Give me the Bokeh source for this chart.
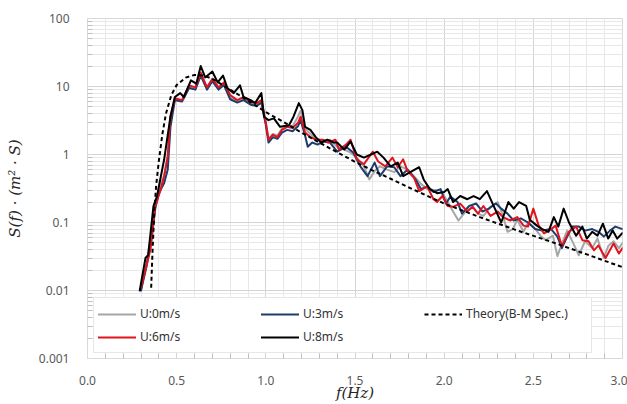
from bokeh.plotting import figure
from bokeh.models import (Range1d, FixedTicker, Legend, LegendItem,
                          CustomJSTickFormatter, NumeralTickFormatter)
from bokeh.embed import file_html
from bokeh.resources import INLINE

# ---- data ----
f_u0 = [0.30, 0.33, 0.36, 0.38, 0.40, 0.43, 0.45, 0.465, 0.49, 0.53, 0.57, 0.605, 0.635, 0.67, 0.70,
        0.735, 0.765, 0.80, 0.84, 0.875, 0.915, 0.95, 0.975, 1.0, 1.015, 1.04, 1.065, 1.09, 1.12, 1.15,
        1.18, 1.195, 1.22, 1.25, 1.28, 1.32, 1.36, 1.40, 1.44, 1.475, 1.51, 1.55, 1.58, 1.61, 1.64,
        1.68, 1.72, 1.755, 1.795, 1.83, 1.87, 1.905, 1.94, 1.98, 2.02, 2.05, 2.08, 2.12, 2.16, 2.19,
        2.22, 2.26, 2.30, 2.33, 2.355, 2.385, 2.41, 2.445, 2.47, 2.50, 2.54, 2.57, 2.61, 2.635, 2.66,
        2.69, 2.725, 2.755, 2.79, 2.83, 2.86, 2.895, 2.92, 2.95, 2.98, 3.0]
s_u0 = [0.01, 0.025, 0.07, 0.18, 0.3, 0.5, 1.0, 3.2, 6.5, 6.3, 10, 9.5, 15, 9.5, 12.5,
        9.5, 11, 7, 6, 6.6, 5.6, 5.4, 6, 3.0, 1.7, 2.0, 1.9, 2.4, 2.6, 2.6,
        3.6, 4.4, 2.4, 2.0, 1.7, 1.6, 1.65, 1.3, 1.18, 1.07, 0.9, 0.67, 0.43, 0.57, 0.67,
        0.6, 0.55, 0.67, 0.6, 0.48, 0.37, 0.31, 0.3, 0.3, 0.2, 0.145, 0.107, 0.145, 0.17, 0.135,
        0.125, 0.17, 0.2, 0.125, 0.073, 0.08, 0.11, 0.073, 0.1, 0.087, 0.064, 0.055, 0.064, 0.032, 0.049,
        0.076, 0.049, 0.033, 0.053, 0.042, 0.058, 0.03, 0.045, 0.053, 0.042, 0.05]

f_u3 = [0.30, 0.33, 0.36, 0.38, 0.40, 0.43, 0.45, 0.465, 0.49, 0.53, 0.57, 0.605, 0.635, 0.67, 0.70,
        0.735, 0.765, 0.80, 0.84, 0.875, 0.915, 0.95, 0.975, 1.0, 1.015, 1.04, 1.065, 1.09, 1.12, 1.15,
        1.18, 1.195, 1.22, 1.235, 1.26, 1.29, 1.32, 1.36, 1.40, 1.45, 1.49, 1.53, 1.57, 1.61, 1.64,
        1.68, 1.72, 1.755, 1.795, 1.84, 1.87, 1.905, 1.94, 1.98, 2.01, 2.035, 2.075, 2.10, 2.14, 2.18,
        2.215, 2.25, 2.29, 2.32, 2.355, 2.39, 2.43, 2.47, 2.51, 2.55, 2.60, 2.635, 2.66, 2.69, 2.72,
        2.755, 2.79, 2.83, 2.865, 2.895, 2.93, 2.96, 3.0]
s_u3 = [0.01, 0.022, 0.06, 0.16, 0.27, 0.38, 0.6, 2.5, 6.3, 6.0, 9.5, 9.0, 14.5, 9.0, 12.0,
        9.0, 10.5, 6.5, 5.8, 6.3, 5.4, 5.2, 5.8, 2.7, 1.5, 1.8, 1.7, 2.1, 2.3, 2.2,
        2.6, 3.2, 1.9, 1.3, 1.5, 1.4, 1.55, 1.5, 1.1, 1.3, 1.07, 0.67, 0.48, 0.76, 0.48,
        0.67, 0.65, 0.48, 0.6, 0.43, 0.31, 0.34, 0.28, 0.31, 0.19, 0.24, 0.2, 0.135, 0.175, 0.19,
        0.145, 0.16, 0.19, 0.16, 0.135, 0.107, 0.115, 0.1, 0.08, 0.076, 0.08, 0.062, 0.042, 0.062, 0.087,
        0.087, 0.076, 0.08, 0.073, 0.062, 0.076, 0.087, 0.08]

f_u6 = [0.30, 0.353, 0.38, 0.41, 0.43, 0.45, 0.465, 0.49, 0.53, 0.57, 0.605, 0.635, 0.67, 0.70, 0.735,
        0.765, 0.80, 0.84, 0.875, 0.915, 0.95, 0.975, 1.0, 1.015, 1.04, 1.065, 1.09, 1.12, 1.15, 1.18,
        1.195, 1.22, 1.25, 1.28, 1.32, 1.35, 1.39, 1.41, 1.45, 1.475, 1.51, 1.55, 1.60, 1.63, 1.67,
        1.71, 1.74, 1.77, 1.795, 1.83, 1.86, 1.905, 1.94, 1.96, 1.99, 2.02, 2.05, 2.09, 2.13, 2.16,
        2.19, 2.22, 2.26, 2.30, 2.33, 2.37, 2.41, 2.445, 2.47, 2.50, 2.53, 2.56, 2.60, 2.625, 2.66,
        2.70, 2.74, 2.775, 2.81, 2.84, 2.865, 2.905, 2.95, 2.98, 3.0]
s_u6 = [0.011, 0.04, 0.175, 0.3, 0.48, 0.93, 3.6, 6.7, 6.3, 10.4, 9.7, 16, 9.7, 13, 9.7,
        11.5, 7.5, 6.3, 7, 5.9, 5.7, 6.3, 2.9, 1.65, 1.95, 1.8, 2.3, 2.55, 2.45, 2.9,
        3.6, 2.1, 1.8, 1.65, 1.65, 1.5, 1.65, 1.18, 1.4, 1.65, 0.85, 0.72, 1.1, 0.79, 0.67,
        0.9, 0.65, 0.85, 0.57, 0.46, 0.29, 0.34, 0.22, 0.2, 0.245, 0.175, 0.17, 0.19, 0.145, 0.17,
        0.135, 0.175, 0.125, 0.145, 0.12, 0.107, 0.12, 0.09, 0.087, 0.16, 0.09, 0.069, 0.08, 0.09, 0.045,
        0.073, 0.087, 0.055, 0.053, 0.039, 0.046, 0.03, 0.049, 0.035, 0.042]

f_u8 = [0.293, 0.325, 0.34, 0.37, 0.39, 0.43, 0.465, 0.49, 0.52, 0.54, 0.58, 0.61, 0.635, 0.66, 0.70,
        0.73, 0.76, 0.785, 0.82, 0.855, 0.875, 0.915, 0.94, 0.975, 0.99, 1.015, 1.045, 1.08, 1.13, 1.155,
        1.185, 1.205, 1.22, 1.25, 1.28, 1.31, 1.345, 1.38, 1.40, 1.44, 1.475, 1.51, 1.55, 1.59, 1.625,
        1.66, 1.70, 1.74, 1.77, 1.81, 1.86, 1.885, 1.92, 1.96, 2.0, 2.02, 2.05, 2.09, 2.13, 2.165,
        2.2, 2.24, 2.28, 2.32, 2.36, 2.39, 2.42, 2.46, 2.48, 2.52, 2.55, 2.585, 2.615, 2.64, 2.67,
        2.70, 2.74, 2.775, 2.80, 2.83, 2.86, 2.89, 2.92, 2.945, 2.97, 3.0]
s_u8 = [0.01, 0.03, 0.033, 0.175, 0.245, 0.85, 3.6, 7.0, 8.0, 7.0, 12.3, 11.0, 20.0, 13.6, 16.6,
        11.5, 14.5, 9.4, 8.0, 10.4, 7.0, 6.3, 5.7, 8.0, 3.6, 3.2, 3.4, 2.55, 2.7, 3.6,
        5.7, 4.5, 2.55, 2.3, 1.8, 1.5, 1.65, 1.5, 1.5, 1.18, 1.55, 1.0, 0.9, 1.0, 1.1,
        0.9, 0.67, 0.76, 0.48, 0.55, 0.65, 0.43, 0.31, 0.27, 0.28, 0.31, 0.2, 0.245, 0.22, 0.245,
        0.22, 0.29, 0.17, 0.1, 0.2, 0.16, 0.2, 0.175, 0.11, 0.09, 0.08, 0.073, 0.12, 0.087, 0.16,
        0.1, 0.064, 0.087, 0.058, 0.073, 0.064, 0.096, 0.058, 0.076, 0.058, 0.07]

f_th = [0.357, 0.365, 0.375, 0.385, 0.40, 0.42, 0.44, 0.47, 0.50, 0.55, 0.60, 0.65, 0.70, 0.80, 0.90,
        1.0, 1.1, 1.2, 1.3, 1.4, 1.5, 1.6, 1.7, 1.8, 1.9, 2.0, 2.2, 2.4, 2.6, 2.8, 3.0]
s_th = [0.011, 0.04, 0.15, 0.35, 0.8, 2.0, 4.0, 7.5, 10.5, 13.5, 14.8, 14.5, 13.0, 9.0, 6.2,
        4.2, 3.0, 2.1, 1.5, 1.08, 0.78, 0.58, 0.44, 0.33, 0.25, 0.19, 0.12, 0.078, 0.052, 0.034, 0.022]

labels = ["U:0m/s", "U:3m/s", "U:6m/s", "U:8m/s", "Theory(B-M Spec.)"]
x_ticks = [0.0, 0.5, 1.0, 1.5, 2.0, 2.5, 3.0]
y_ticks = [0.001, 0.01, 0.1, 1, 10, 100]

# ---- figure ----
p = figure(width=627, height=404, output_backend="svg", toolbar_location=None,
           y_axis_type="log", x_range=Range1d(0, 3), y_range=Range1d(0.001, 100),
           min_border_left=87, min_border_right=5, min_border_top=18, min_border_bottom=42)
p.background_fill_color = "white"
p.border_fill_color = "white"
p.outline_line_color = "#d9d9d9"

minor_y = [m * 10.0 ** e for e in range(-3, 2) for m in range(2, 10)]
minor_x = [i / 10 for i in range(0, 31) if i % 5 != 0]
p.xaxis.ticker = FixedTicker(ticks=x_ticks, minor_ticks=minor_x)
p.yaxis.ticker = FixedTicker(ticks=y_ticks, minor_ticks=minor_y)
p.xaxis.formatter = NumeralTickFormatter(format="0.0")
p.yaxis.formatter = CustomJSTickFormatter(code="return Number(tick.toPrecision(3)).toString();")

for ax in (p.xaxis[0], p.yaxis[0]):
    ax.axis_line_color = "#d9d9d9"
    ax.major_tick_line_color = None
    ax.minor_tick_line_color = "#bfbfbf"
    ax.minor_tick_in = 5
    ax.minor_tick_out = 0
    ax.major_label_text_font = "Noto Sans"
    ax.major_label_text_font_size = "12px"
    ax.major_label_text_color = "#595959"
    ax.axis_label_text_font = "DejaVu Serif"
    ax.axis_label_text_font_style = "italic"
    ax.axis_label_text_font_size = "15px"
    ax.axis_label_text_color = "#262626"

p.xaxis.major_label_standoff = 11
p.xaxis.axis_label = "f(Hz)"
p.xaxis.axis_label_standoff = -4
p.yaxis.major_label_standoff = 12
p.yaxis.axis_label = "S(f) · (m² · S)"
p.yaxis.axis_label_standoff = 12

p.xgrid.grid_line_color = "#d4d4d4"
p.ygrid.grid_line_color = "#d4d4d4"
p.xgrid.minor_grid_line_color = "#e8e8e8"
p.ygrid.minor_grid_line_color = "#e8e8e8"

common = dict(line_width=2, line_join="round", line_cap="round")
r0 = p.line(f_u0, s_u0, line_color="#a6a6a6", **common)
r3 = p.line(f_u3, s_u3, line_color="#1f3c6e", **common)
r6 = p.line(f_u6, s_u6, line_color="#e0141e", **common)
r8 = p.line(f_u8, s_u8, line_color="#000000", **common)
rt = p.line(f_th, s_th, line_color="#000000", line_width=2, line_dash="4 3")

legend = Legend(items=[LegendItem(label=labels[0], renderers=[r0]),
                       LegendItem(label=labels[1], renderers=[r3]),
                       LegendItem(label=labels[4], renderers=[rt]),
                       LegendItem(label=labels[2], renderers=[r6]),
                       LegendItem(label=labels[3], renderers=[r8])],
                orientation="horizontal", ncols=3,
                location=(6, 5), margin=0, padding=4, spacing=0,
                glyph_width=38, glyph_height=20, label_height=23, label_width=121,
                label_standoff=4,
                label_text_font="Noto Sans", label_text_font_size="12px",
                label_text_color="#333333",
                border_line_color="#d0d0d0", border_line_width=1,
                background_fill_color="white", background_fill_alpha=1)
p.add_layout(legend, "center")

open("out.html", "w").write(file_html(p, INLINE))
